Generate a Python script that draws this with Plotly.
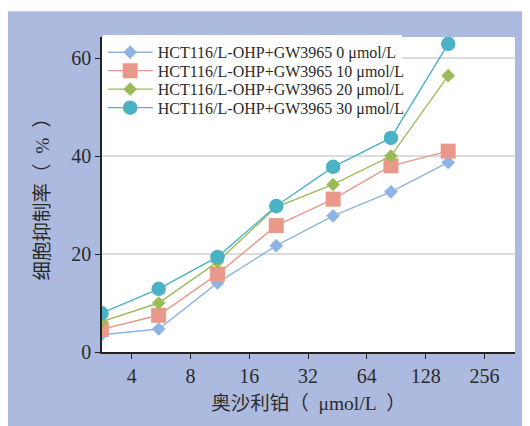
import math
import plotly.graph_objects as go

# Data
concentration = [2.8, 5.5, 11, 22, 43, 85, 167]
series_names = [
    "HCT116/L-OHP+GW3965 0 μmol/L",
    "HCT116/L-OHP+GW3965 10 μmol/L",
    "HCT116/L-OHP+GW3965 20 μmol/L",
    "HCT116/L-OHP+GW3965 30 μmol/L",
]
inhib_0 = [3.5, 4.7, 14.1, 21.7, 27.8, 32.7, 38.7]
inhib_10 = [4.6, 7.5, 15.9, 25.8, 31.2, 38.0, 41.0]
inhib_20 = [6.2, 10.0, 18.4, 29.6, 34.2, 40.0, 56.4]
inhib_30 = [7.9, 12.9, 19.4, 29.8, 37.8, 43.7, 62.9]
x_ticks = [4, 8, 16, 32, 64, 128, 256]
y_ticks = [0, 20, 40, 60]
x_title = "奥沙利铂（\u00a0\u00a0μmol/L\u00a0\u00a0）"
y_title = "细胞抑制率（\u00a0\u00a0%\u00a0\u00a0）"

series_values = [inhib_0, inhib_10, inhib_20, inhib_30]
colors = ["#8db4e2", "#e8998a", "#9bbb59", "#4bb2c6"]
symbols = ["diamond", "square", "diamond", "circle"]
sizes = [10.5, 15, 10.5, 14.5]
legend_ids = ["legend", "legend2", "legend3", "legend4"]

SERIF = "Liberation Serif, Noto Sans CJK SC, serif"
TXT = "#2b2b2b"
BG = "#adbadf"

fig = go.Figure()
for name, vals, c, s, sz, lg in zip(series_names, series_values, colors, symbols, sizes, legend_ids):
    fig.add_trace(go.Scatter(
        x=concentration, y=vals, name=name, mode="lines+markers",
        line=dict(color=c, width=1.4),
        marker=dict(symbol=s, size=sz, color=c, line=dict(width=0)),
        legend=lg,
    ))

W, H = 530, 426
L, R, T, B = 94, 23, 28.7, 82
pw, ph = W - L - R, H - T - B

def leg(ypix, bg):
    return dict(
        x=0.7 / pw, y=(H - B - ypix) / ph, xanchor="left", yanchor="middle",
        bgcolor=bg, borderwidth=0, itemwidth=45,
        font=dict(family=SERIF, size=16, color=TXT),
    )

layout_legends = {}
for i, (lg, yp) in enumerate(zip(legend_ids, [44, 62.5, 81, 99.5])):
    layout_legends[lg] = leg(yp, "white" if i == 0 else "rgba(0,0,0,0)")

fig.update_layout(
    width=W, height=H, autosize=False,
    margin=dict(l=L, r=R, t=T, b=B, pad=0),
    paper_bgcolor=BG, plot_bgcolor="white",
    font=dict(family=SERIF, color=TXT),
    showlegend=True,
    **layout_legends,
    xaxis=dict(
        type="log", range=[math.log10(2.82), math.log10(367)],
        tickvals=x_ticks, ticktext=[str(v) for v in x_ticks],
        showgrid=False, zeroline=False,
        showline=True, linecolor="#222", linewidth=1.5,
        ticks="outside", ticklen=5, tickwidth=1.2, tickcolor="#222",
        tickfont=dict(family=SERIF, size=20, color=TXT),
        title=dict(text=x_title, font=dict(family=SERIF, size=19.5, color=TXT), standoff=11),
    ),
    yaxis=dict(
        range=[0, 64.3], tickvals=y_ticks,
        showgrid=True, gridcolor="#dcdcdc", gridwidth=1.5, zeroline=False,
        showline=True, linecolor="#222", linewidth=1.5,
        ticks="outside", ticklen=5, tickwidth=1.2, tickcolor="#222",
        tickfont=dict(family=SERIF, size=20, color=TXT),
        title=dict(text=y_title, font=dict(family=SERIF, size=19.5, color=TXT), standoff=16),
    ),
)

# thin white page strip above the coloured panel
fig.add_shape(type="rect", xref="paper", yref="paper", layer="below",
              x0=-L / pw - 0.05, x1=(W - L) / pw + 0.05,
              y0=(H - B - 3) / ph, y1=(H - B + 5) / ph,
              fillcolor="white", line=dict(width=0))

fig.write_html("out.html")
